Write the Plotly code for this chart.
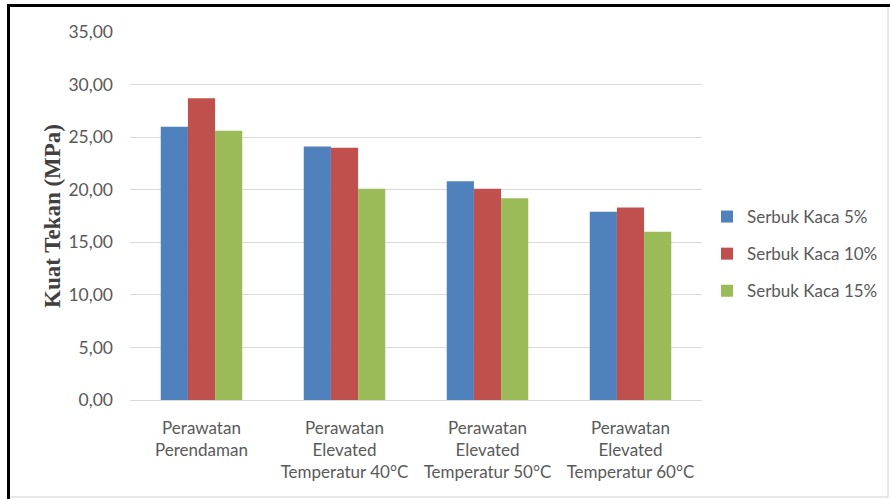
import plotly.graph_objects as go

categories = [
    "Perawatan<br>Perendaman",
    "Perawatan<br>Elevated<br>Temperatur 40°C",
    "Perawatan<br>Elevated<br>Temperatur 50°C",
    "Perawatan<br>Elevated<br>Temperatur 60°C",
]
series_names = ["Serbuk Kaca 5%", "Serbuk Kaca 10%", "Serbuk Kaca 15%"]
kaca_5 = [26.0, 24.1, 20.8, 17.9]
kaca_10 = [28.7, 24.0, 20.1, 18.3]
kaca_15 = [25.6, 20.1, 19.2, 16.0]
colors = ["#4F81BD", "#C0504D", "#9BBB59"]
y_ticks = [0, 5, 10, 15, 20, 25, 30, 35]

W, H = 890, 499
L, R, T, B = 130, 188, 32, 99
pw, ph = W - L - R, H - T - B


def px_x(x):
    return (x - L) / pw


def px_y(y):
    return (H - B - y) / ph


fig = go.Figure()
for i, (name, vals) in enumerate(zip(series_names, [kaca_5, kaca_10, kaca_15])):
    fig.add_trace(go.Bar(
        x=categories, y=vals, name=name,
        marker=dict(color=colors[i], line=dict(width=0)),
        legendgroup=name,
    ))

fig.update_layout(
    width=W, height=H,
    margin=dict(l=L, r=R, t=T, b=B, autoexpand=False),
    paper_bgcolor="white", plot_bgcolor="white",
    separators=",.",
    barmode="group", bargap=0.43, bargroupgap=0,
    font=dict(family="Lato, 'Open Sans', sans-serif", color="#595959", size=17),
    xaxis=dict(showgrid=False, ticks="", showline=False,
               tickfont=dict(size=17, color="#595959"),
               ticklabelstandoff=16),
    yaxis=dict(range=[0, 35], tickvals=y_ticks, tickformat=".2f",
               showgrid=True, gridcolor="#D9D9D9", gridwidth=1,
               zeroline=True, zerolinecolor="#D9D9D9", zerolinewidth=1,
               ticks="", ticklen=0, tickfont=dict(size=17.5, color="#595959"),
               ticklabelstandoff=16),
    legend=dict(x=px_x(707), y=px_y(254), xanchor="left", yanchor="middle",
                font=dict(size=17, color="#595959"), tracegroupgap=12,
                itemwidth=30, bgcolor="rgba(0,0,0,0)"),
    showlegend=True,
)

fig.add_annotation(
    text="<b>Kuat Tekan (MPa)</b>", textangle=-90,
    xref="paper", yref="paper", x=px_x(52), y=px_y(216),
    xanchor="center", yanchor="middle", showarrow=False,
    font=dict(family="'Liberation Serif', 'Times New Roman', serif", size=23, color="#404040"),
)

# frame
fig.add_shape(type="rect", xref="paper", yref="paper",
              x0=px_x(8), x1=px_x(888), y0=px_y(497), y1=px_y(5.5),
              line=dict(color="#D0D0D0", width=1), layer="below")
fig.add_shape(type="line", xref="paper", yref="paper",
              x0=px_x(7), x1=px_x(890), y0=px_y(5.5), y1=px_y(5.5),
              line=dict(color="black", width=3))
fig.add_shape(type="line", xref="paper", yref="paper",
              x0=px_x(8.5), x1=px_x(8.5), y0=px_y(499), y1=px_y(4),
              line=dict(color="black", width=3))

fig.write_html("out.html")
